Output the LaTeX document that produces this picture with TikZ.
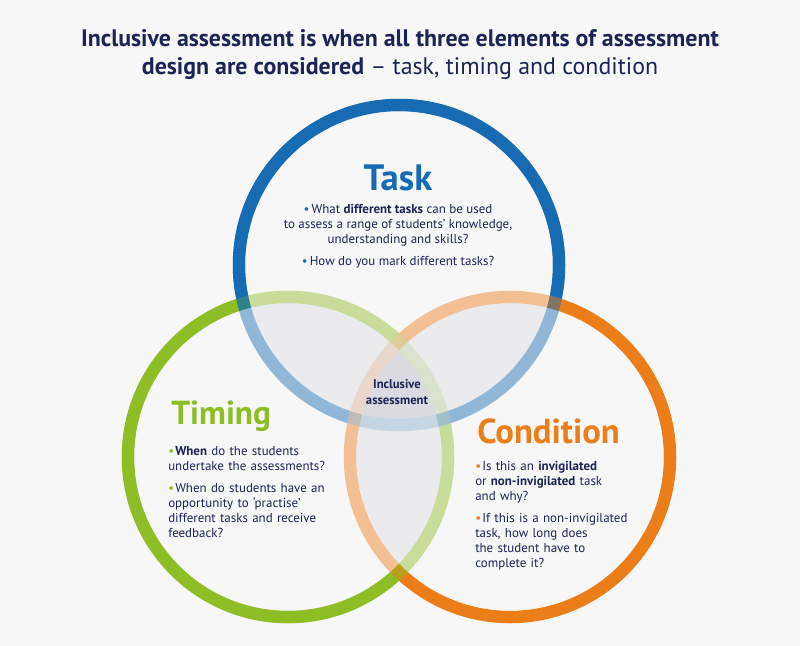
\documentclass[tikz,border=0pt]{standalone}
\usepackage{fontspec}
\setmainfont{PT Sans}
\usetikzlibrary{positioning}

\definecolor{taskblue}{RGB}{23,107,178}
\definecolor{timinggreen}{RGB}{141,190,38}
\definecolor{condorange}{RGB}{236,126,25}
\definecolor{inkblue}{RGB}{27,36,84}
\definecolor{paper}{RGB}{247,247,248}
\definecolor{lensgrey}{RGB}{196,196,206}

\newcommand{\dotitem}[2]{\par\noindent\hangindent=5.25pt\hangafter=1\makebox[5.25pt][l]{\textcolor{#1}{•}}#2\par}

\begin{document}
\begin{tikzpicture}[x=0.75pt, y=-0.75pt]
    \tikzset{
      ring/.style={line width=9.375pt},
      wash/.style={fill=paper, fill opacity=0.55},
      lens/.style={fill=lensgrey, fill opacity=0.234},
      heading/.style={font=\fontsize{25}{30}\selectfont\bfseries, inner sep=0pt},
      body/.style={font=\fontsize{9.7}{11.3}\selectfont, text=inkblue, inner sep=0pt}
    }
    \useasboundingbox (0,0) rectangle (800,646);
    \fill[paper] (0,0) rectangle (800,646);

    % Circle centres
    \coordinate (ctask) at (399,265);
    \coordinate (ctiming) at (288,457);
    \coordinate (ccond) at (510,457);

    % Rings
    \draw[ring, timinggreen] (ctiming) circle (120pt);
    \draw[ring, taskblue] (ctask) circle (120pt);
    \draw[ring, condorange] (ccond) circle (120pt);
    \draw[ring, timinggreen, draw opacity=0.5] (ctiming) circle (120pt);
    \draw[ring, taskblue, draw opacity=0.5] (ctask) circle (120pt);

    % Washes over the rings
    \fill[wash] (ctask) circle (115.3pt);
    \fill[wash] (ctiming) circle (115.3pt);
    \fill[wash] (ccond) circle (115.3pt);

    % Overlaps
    \begin{scope}
      \clip (ctask) circle (115.3pt);
      \fill[lens] (ctiming) circle (115.3pt);
    \end{scope}
    \begin{scope}
      \clip (ctask) circle (115.3pt);
      \fill[lens] (ccond) circle (115.3pt);
    \end{scope}
    \begin{scope}
      \clip (ctiming) circle (115.3pt);
      \fill[lens] (ccond) circle (115.3pt);
    \end{scope}

    % Title
    \node[font=\fontsize{17.9}{21}\selectfont, text=inkblue, align=center, anchor=north, inner sep=0pt] (title) at (400,29)
      {\textbf{Inclusive assessment is when all three elements of assessment}\\
       \textbf{design are considered} – task, timing and condition};

    % Task
    \node[heading, font=\fontsize{27.5}{30}\selectfont\bfseries, text=taskblue, anchor=base] (tasktitle) at (398,190) {Task};
    \node[body, align=center, anchor=north] (tasklist) at (398,204)
      {\textcolor{taskblue}{•}\,What \textbf{different tasks} can be used\\
       to assess a range of students’ knowledge,\\
       understanding and skills?\\[5pt]
       \textcolor{taskblue}{•}\,How do you mark different tasks?};

    % Timing
    \node[heading, text=timinggreen, anchor=base west] (timingtitle) at (171,424) {Timing};
    \node[body, align=left, text width=130pt, anchor=north west] (timinglist) at (168,440.5)
      {\dotitem{timinggreen}{\textbf{When} do the students\\undertake the assessments?}
       \vspace{5pt}
       \dotitem{timinggreen}{When do students have an\\opportunity to ‘practise’\\different tasks and receive\\feedback?}};

    % Condition
    \node[heading, font=\fontsize{26}{30}\selectfont\bfseries, text=condorange, anchor=base west] (condtitle) at (477,443) {Condition};
    \node[body, align=left, text width=130pt, anchor=north west] (condlist) at (475,455.5)
      {\dotitem{condorange}{Is this an \textbf{invigilated}\\or \textbf{non-invigilated} task\\and why?}
       \vspace{5pt}
       \dotitem{condorange}{If this is a non-invigilated\\task, how long does\\the student have to\\complete it?}};

    % Centre
    \node[font=\fontsize{9.5}{11.5}\selectfont\bfseries, text=inkblue, align=center, inner sep=0pt] (centre) at (397,392)
      {Inclusive\\assessment};
\end{tikzpicture}
\end{document}
